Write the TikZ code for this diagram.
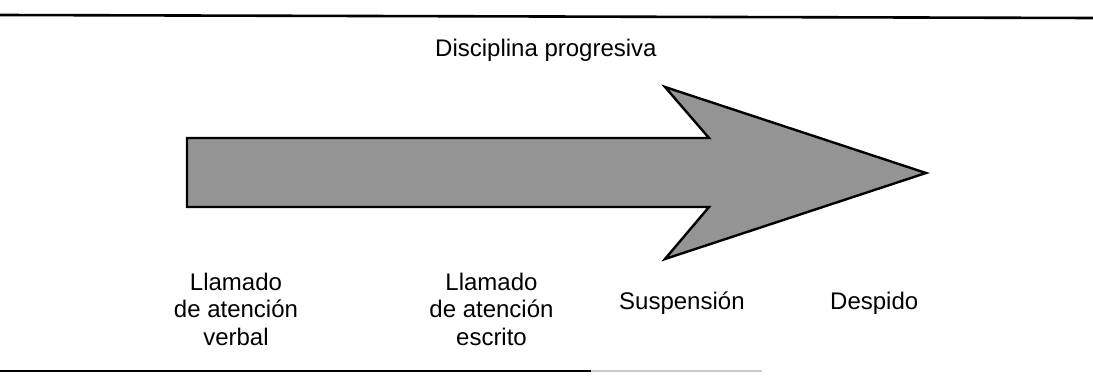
\documentclass[tikz,border=0pt]{standalone}
\usepackage{fontspec}
\setmainfont{Liberation Sans}
\begin{document}
\begin{tikzpicture}[x=1pt,y=-1pt,
  rule/.style={line width=2.6pt,black},
  arrowbody/.style={draw=black,line width=2.4pt,line join=miter,fill=black!42},
  lbl/.style={inner sep=0pt,font=\fontsize{24}{27.5}\selectfont,align=center},
  ttl/.style={inner sep=0pt,font=\fontsize{24}{27.5}\selectfont}]
\useasboundingbox (0,0) rectangle (1093,385);
% rules
\draw[rule] (0,15) -- (1093,18);
\draw[rule] (0,371) -- (591,371);
\draw[line width=2pt,black!20] (591,371) -- (762,371);
% title
\node[ttl,anchor=base west] (title) at (435,57) {Disciplina progresiva};
% arrow
\coordinate (s1) at (187,138);
\coordinate (j1) at (709,138);
\coordinate (h1) at (665,87);
\coordinate (tip) at (926,173);
\coordinate (h2) at (665,259);
\coordinate (j2) at (709,207);
\coordinate (s2) at (187,207);
\draw[arrowbody] (s1) -- (j1) -- (h1) -- (tip) -- (h2) -- (j2) -- (s2) -- cycle;
% labels
\node[lbl,anchor=north] (verbal) at (236,272.5) {Llamado\\de atención\\verbal};
\node[lbl,anchor=north] (escrito) at (491.5,272.5) {Llamado\\de atención\\escrito};
\node[ttl,anchor=base west] (susp) at (619,309) {Suspensión};
\node[ttl,anchor=base west] (desp) at (830,309) {Despido};
\end{tikzpicture}
\end{document}
